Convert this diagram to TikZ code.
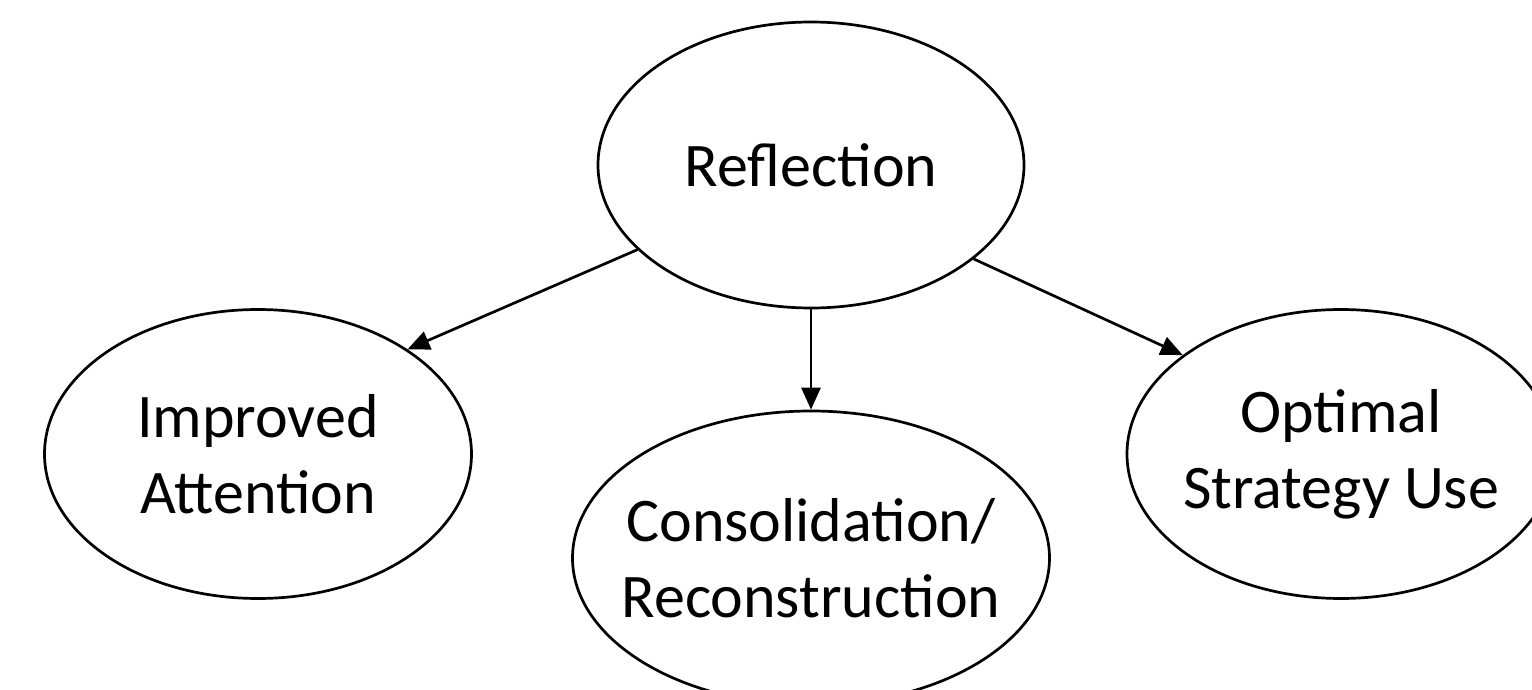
\documentclass[tikz,border=0pt]{standalone}
\usepackage{fontspec}
\setmainfont{Carlito}
\usetikzlibrary{shapes.geometric,arrows.meta}
\begin{document}
\begin{tikzpicture}[x=0.5pt,y=-0.5pt,
  bubble/.style={ellipse,draw=black,line width=1.35pt,inner xsep=-120pt,inner ysep=-60pt,align=center,
    font=\fontsize{31}{38}\selectfont,text=black},
  link/.style={line width=1.35pt,-{Triangle[length=11pt,width=9.5pt]}}]
\useasboundingbox (0,0) rectangle (1532,690);
\fill[white] (0,0) rectangle (1532,690);
\node[bubble,minimum width=213pt,minimum height=143pt] (refl) at (811,165) {Reflection};
\node[bubble,minimum width=213.5pt,minimum height=144.5pt] (att) at (258,454) {Improved\\Attention};
\node[bubble,minimum width=238.5pt,minimum height=147pt] (cons) at (811,558) {Consolidation/\\Reconstruction};
\node[bubble,minimum width=214pt,minimum height=144.5pt] (opt) at (1341,454) {Optimal\\Strategy Use};
\draw[link] (refl.206.6) -- (att.35.3);
\draw[link] (refl.south) -- (cons.north);
\draw[link] (refl.330.7) -- (opt.148.1);
\end{tikzpicture}
\end{document}
